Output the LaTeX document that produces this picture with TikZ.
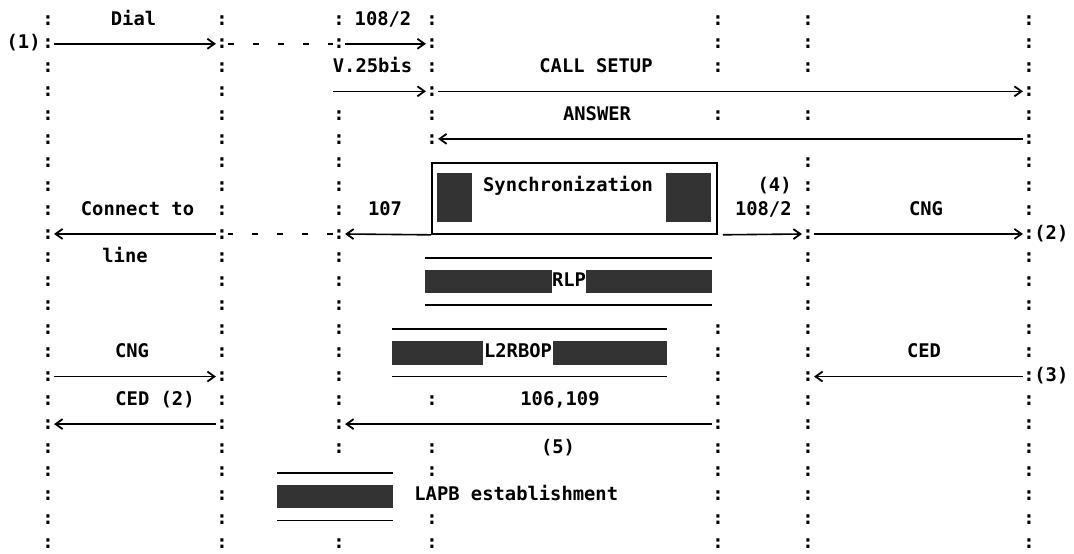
\documentclass[tikz,border=0pt]{standalone}
\usepackage{fontspec}
\newfontfamily\asciifont{DejaVu Sans Mono}
\usetikzlibrary{arrows.meta,fit}

\begin{document}
\begin{tikzpicture}[
    x=0.5pt, y=-11.885pt,
    txt/.style={font=\asciifont\bfseries\fontsize{9.4pt}{11pt}\selectfont, inner sep=0pt, text height=5.2pt, text depth=0pt},
    colon/.style={txt},
    msg/.style={-{Straight Barb[length=3.5pt,width=5pt,line width=0.9pt]}, line width=0.8pt},
    link/.style={line width=1pt, dash pattern=on 3pt off 9.46pt},
    syncbox/.style={draw, line width=0.9pt, inner sep=0pt},
    shade/.style={fill=black!80},
    bar/.style={line width=0.8pt},
  ]
  \useasboundingbox (0,-0.8414) rectangle (1074,22.4233);
  \foreach \c/\x/\rows in {A/48/{0,...,22}, B/222/{0,...,22},
      C/339/{0,1}, C/339/{4,...,18}, C/339/{22},
      D/432/{0,...,5}, D/432/{16}, D/432/{18,19,21,22},
      E/718/{0,1,2,4}, E/718/{13,...,22},
      F/808/{0,1,2,4}, F/808/{6,...,22}, G/1029/{0,...,22}}
    \foreach \r in \rows
      \node[colon] (\c-\r) at (\x,\r) {:};
  \node[syncbox, fit={(432,6) (717,9)}] (sync) {};
  \fill[shade] (437,6.45) rectangle (472,8.49);
  \fill[shade] (666,6.45) rectangle (711,8.49);
  \node[txt] (synctext) at (568,7) {Synchronization};
  \foreach \name/\text/\xl/\xr/\tl/\tr/\r in {rlp/RLP/425/712/552/586/10, l2rbop/L2RBOP/392/667/483/553/13} {
    \node[txt] (\name) at ({(\tl+\tr)/2},\r+1) {\text};
    \fill[shade] (\xl,\r+0.5) rectangle (\tl,\r+1.5);
    \fill[shade] (\tr,\r+0.5) rectangle (\xr,\r+1.5);
    \draw[bar] (\xl,\r) -- (\xr,\r) (\xl,\r+2) -- (\xr,\r+2);
  }
  \fill[shade] (277,19.55) rectangle (393,20.55);
  \draw[bar] (277,19.05) -- (393,19.05) (277,21.05) -- (393,21.05);
  \node[txt, anchor=west] (lapb) at (414,20) {LAPB establishment};
  \node[txt] (dial) at (133.5,0) {Dial};
  \node[txt, anchor=east] (one) at (41,1) {(1)};
  \node[txt] (ct108a) at (383,0) {108/2};
  \node[txt] (v25) at (372.5,2) {V.25bis};
  \node[txt] (setup) at (596,2) {CALL SETUP};
  \node[txt] (answer) at (597,4) {ANSWER};
  \node[txt, anchor=east] (four) at (792,7) {(4)};
  \node[txt, anchor=east] (ct108b) at (792,8) {108/2};
  \node[txt] (connect) at (137.5,8) {Connect to};
  \node[txt] (connline) at (125,10) {line};
  \node[txt] (ct107) at (385,8) {107};
  \node[txt] (cngout) at (926,8) {CNG};
  \node[txt, anchor=west] (two) at (1034,9) {(2)};
  \node[txt] (cngin) at (132,14) {CNG};
  \node[txt] (cedout) at (924,14) {CED};
  \node[txt, anchor=west] (three) at (1034,15) {(3)};
  \node[txt] (cedin) at (155,16) {CED (2)};
  \node[txt] (ct106) at (560,16) {106,109};
  \node[txt] (five) at (558,18) {(5)};
  \coordinate (dte) at (333,3);
  \foreach \a/\b in {A-1/B-1, C-1/D-1, dte/D-3, D-3/G-3, G-5/D-5, sync.south west/C-9,
      B-9/A-9, F-9/G-9, A-15/B-15, G-15/F-15, B-17/A-17, E-17/C-17}
    \draw[msg] (\a) -- (\b);
  \draw[msg, shorten <=2.5pt] (sync.south east) -- (F-9);
  \draw[link] (B-1) -- (C-1);
  \draw[link] (C-9) -- (B-9);
\end{tikzpicture}
\end{document}
